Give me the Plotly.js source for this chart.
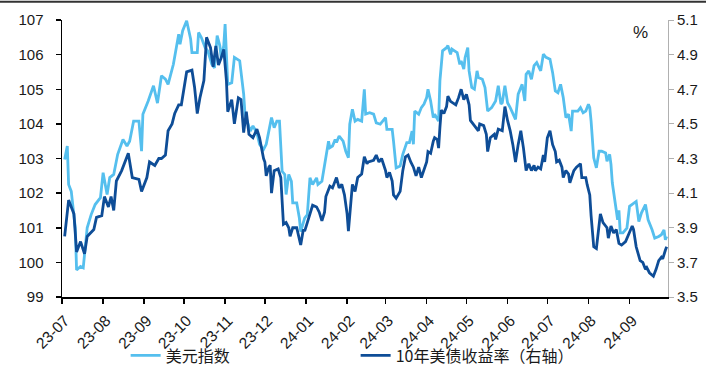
<!DOCTYPE html>
<html>
<head>
<meta charset="utf-8">
<script src="https://cdn.plot.ly/plotly-3.0.1.min.js"></script>
<style>
  html, body { margin: 0; padding: 0; background: #ffffff; }
  #chart { width: 718px; height: 376px; }
</style>
</head>
<body>
<div id="chart"></div>
<script>
// ---- Data ----
const seriesNames = ['美元指数', '10年美债收益率（右轴）'];

const dxyDates = [
 '2023-07-03','2023-07-05','2023-07-06','2023-07-08','2023-07-11','2023-07-12','2023-07-15','2023-07-17','2023-07-20','2023-07-23',
 '2023-07-26','2023-07-30','2023-08-01','2023-08-04','2023-08-06','2023-08-09','2023-08-12','2023-08-16','2023-08-19','2023-08-21',
 '2023-08-24','2023-08-28','2023-08-30','2023-08-31','2023-09-04','2023-09-08','2023-09-11','2023-09-14','2023-09-17','2023-09-19',
 '2023-09-23','2023-09-27','2023-09-28','2023-09-30','2023-10-03','2023-10-06','2023-10-07','2023-10-11','2023-10-12','2023-10-14',
 '2023-10-17','2023-10-19','2023-10-22','2023-10-24','2023-10-26','2023-10-28','2023-10-29','2023-10-31','2023-11-01','2023-11-03',
 '2023-11-06','2023-11-08','2023-11-12','2023-11-15','2023-11-16','2023-11-20','2023-11-22','2023-11-25','2023-11-27','2023-11-30',
 '2023-12-02','2023-12-05','2023-12-06','2023-12-08','2023-12-10','2023-12-12','2023-12-14','2023-12-16','2023-12-17','2023-12-19',
 '2023-12-21','2023-12-22','2023-12-25','2023-12-27','2023-12-28','2023-12-31','2024-01-02','2024-01-04','2024-01-06','2024-01-09',
 '2024-01-10','2024-01-13','2024-01-15','2024-01-18','2024-01-19','2024-01-21','2024-01-23','2024-01-24','2024-01-26','2024-01-29',
 '2024-01-31','2024-02-02','2024-02-03','2024-02-05','2024-02-07','2024-02-09','2024-02-12','2024-02-14','2024-02-15','2024-02-18',
 '2024-02-21','2024-02-23','2024-02-26','2024-02-28','2024-03-01','2024-03-02','2024-03-06','2024-03-07','2024-03-09','2024-03-12',
 '2024-03-14','2024-03-17','2024-03-19','2024-03-21','2024-03-22','2024-03-23','2024-03-26','2024-03-28','2024-03-30','2024-04-01',
 '2024-04-02','2024-04-04','2024-04-06','2024-04-07','2024-04-10','2024-04-11','2024-04-13','2024-04-16','2024-04-17','2024-04-19',
 '2024-04-20','2024-04-22','2024-04-24','2024-04-26','2024-04-27','2024-04-29','2024-04-30','2024-05-02','2024-05-03','2024-05-05',
 '2024-05-07','2024-05-09','2024-05-10','2024-05-13','2024-05-15','2024-05-17','2024-05-20','2024-05-23','2024-05-25','2024-05-27',
 '2024-05-28','2024-05-30','2024-06-01','2024-06-03','2024-06-06','2024-06-07','2024-06-09','2024-06-12','2024-06-14','2024-06-15',
 '2024-06-17','2024-06-19','2024-06-21','2024-06-23','2024-06-26','2024-06-28','2024-06-30','2024-07-03','2024-07-05','2024-07-07',
 '2024-07-09','2024-07-11','2024-07-13','2024-07-15','2024-07-17','2024-07-19','2024-07-20','2024-07-24','2024-07-26','2024-07-28',
 '2024-07-30','2024-08-01','2024-08-02','2024-08-03','2024-08-05','2024-08-07','2024-08-09','2024-08-11','2024-08-14','2024-08-15',
 '2024-08-17','2024-08-18','2024-08-19','2024-08-21','2024-08-23','2024-08-24','2024-08-25','2024-08-27','2024-08-30','2024-09-01',
 '2024-09-04','2024-09-06','2024-09-08','2024-09-10','2024-09-13','2024-09-15','2024-09-18','2024-09-20','2024-09-23','2024-09-25',
 '2024-09-27','2024-09-28','2024-09-29'
];
const dxyValues = [
 102.97,103.36,102.25,102.05,101.0,99.78,99.88,99.84,101.0,101.38,
 101.67,101.87,102.59,101.96,102.45,102.54,103.12,103.55,103.36,103.5,
 104.08,104.08,103.21,104.28,104.66,105.1,104.6,105.39,105.29,105.14,
 105.72,106.59,106.3,106.69,106.98,106.45,106.06,106.06,106.64,106.5,
 106.2,106.1,105.72,105.62,106.55,106.26,105.92,106.26,106.88,105.14,
 105.19,105.92,105.82,104.86,104.28,103.79,103.94,103.74,103.41,103.26,
 103.41,104.0,104.18,103.89,104.08,104.08,102.63,102.54,101.96,102.54,
 102.34,101.72,101.72,101.28,100.89,101.28,101.38,102.44,102.25,102.44,
 102.25,102.34,102.78,103.5,103.31,103.36,103.55,103.46,103.65,103.5,
 103.21,103.02,103.99,104.42,104.08,104.13,104.08,105.0,104.28,104.32,
 104.28,104.03,103.99,104.08,104.18,103.84,103.84,103.5,102.73,102.78,
 103.12,103.46,103.46,103.79,103.41,104.37,104.28,104.47,104.57,104.76,
 105.0,104.66,104.18,104.28,104.08,105.24,106.11,106.2,106.26,106.01,
 106.16,106.11,106.06,105.72,105.82,105.58,105.92,106.2,105.53,105.05,
 105.0,105.53,105.34,105.29,105.05,104.37,104.47,104.66,105.1,104.57,
 104.61,105.1,104.61,104.47,104.18,104.13,104.86,105.14,104.66,105.43,
 105.53,105.29,105.68,105.77,105.53,106.01,105.92,105.87,105.48,104.95,
 104.9,105.14,104.76,104.18,104.28,103.79,104.37,104.37,104.47,104.32,
 104.37,104.57,104.47,104.08,103.02,102.73,103.21,103.21,103.16,102.92,
 103.12,102.83,102.3,101.81,101.23,101.5,100.85,100.85,100.99,101.62,
 101.72,101.76,101.18,101.43,101.67,101.23,100.94,100.7,100.75,100.8,
 100.94,100.65,100.75
];

const ustDates = [
 '2023-07-03','2023-07-06','2023-07-10','2023-07-12','2023-07-15','2023-07-18','2023-07-20','2023-07-25','2023-07-27','2023-07-31',
 '2023-08-02','2023-08-05','2023-08-07','2023-08-09','2023-08-11','2023-08-15','2023-08-20','2023-08-23','2023-08-28','2023-08-30',
 '2023-09-03','2023-09-05','2023-09-09','2023-09-12','2023-09-14','2023-09-17','2023-09-19','2023-09-22','2023-09-24','2023-09-27',
 '2023-09-29','2023-10-02','2023-10-03','2023-10-07','2023-10-09','2023-10-11','2023-10-13','2023-10-16','2023-10-18','2023-10-21',
 '2023-10-23','2023-10-25','2023-10-27','2023-10-29','2023-10-31','2023-11-02','2023-11-03','2023-11-06','2023-11-08','2023-11-11',
 '2023-11-13','2023-11-15','2023-11-17','2023-11-19','2023-11-22','2023-11-25','2023-11-27','2023-11-30','2023-12-01','2023-12-02',
 '2023-12-04','2023-12-05','2023-12-06','2023-12-08','2023-12-11','2023-12-13','2023-12-15','2023-12-17','2023-12-19','2023-12-20',
 '2023-12-22','2023-12-25','2023-12-26','2023-12-28','2023-12-30','2023-12-31','2024-01-02','2024-01-04','2024-01-06','2024-01-09',
 '2024-01-11','2024-01-13','2024-01-15','2024-01-16','2024-01-19','2024-01-21','2024-01-24','2024-01-26','2024-01-28','2024-01-30',
 '2024-02-01','2024-02-02','2024-02-04','2024-02-05','2024-02-07','2024-02-09','2024-02-12','2024-02-14','2024-02-16','2024-02-17',
 '2024-02-21','2024-02-23','2024-02-25','2024-02-27','2024-03-01','2024-03-02','2024-03-04','2024-03-06','2024-03-07','2024-03-09',
 '2024-03-12','2024-03-14','2024-03-16','2024-03-18','2024-03-20','2024-03-22','2024-03-24','2024-03-26','2024-03-28','2024-03-30',
 '2024-04-01','2024-04-02','2024-04-04','2024-04-06','2024-04-07','2024-04-09','2024-04-10','2024-04-11','2024-04-12','2024-04-14',
 '2024-04-16','2024-04-17','2024-04-19','2024-04-21','2024-04-23','2024-04-25','2024-04-27','2024-04-29','2024-05-01','2024-05-03',
 '2024-05-04','2024-05-07','2024-05-10','2024-05-11','2024-05-14','2024-05-16','2024-05-17','2024-05-19','2024-05-22','2024-05-23',
 '2024-05-25','2024-05-28','2024-05-30','2024-06-01','2024-06-03','2024-06-05','2024-06-07','2024-06-09','2024-06-11','2024-06-13',
 '2024-06-15','2024-06-17','2024-06-19','2024-06-21','2024-06-22','2024-06-24','2024-06-26','2024-06-28','2024-06-29','2024-07-01',
 '2024-07-03','2024-07-05','2024-07-07','2024-07-08','2024-07-10','2024-07-12','2024-07-13','2024-07-15','2024-07-17','2024-07-18',
 '2024-07-21','2024-07-23','2024-07-26','2024-07-27','2024-07-30','2024-07-31','2024-08-02','2024-08-03','2024-08-05','2024-08-07',
 '2024-08-10','2024-08-12','2024-08-15','2024-08-16','2024-08-18','2024-08-20','2024-08-22','2024-08-24','2024-08-26','2024-08-29',
 '2024-08-31','2024-09-03','2024-09-04','2024-09-06','2024-09-09','2024-09-11','2024-09-13','2024-09-14','2024-09-16','2024-09-19',
 '2024-09-21','2024-09-23','2024-09-25','2024-09-26','2024-09-28','2024-09-29'
];
const ustValues = [
 3.85,4.06,3.98,3.76,3.82,3.75,3.85,3.89,3.96,3.97,
 4.08,4.02,4.08,4.00,4.17,4.23,4.33,4.19,4.18,4.11,
 4.19,4.28,4.26,4.30,4.30,4.32,4.46,4.50,4.56,4.61,
 4.61,4.75,4.80,4.81,4.71,4.56,4.65,4.75,5.00,4.94,
 4.83,4.95,4.84,4.88,4.93,4.75,4.57,4.64,4.50,4.65,
 4.64,4.45,4.57,4.44,4.42,4.47,4.42,4.30,4.28,4.20,
 4.25,4.26,4.10,4.23,4.24,4.19,3.92,3.93,3.90,3.85,
 3.90,3.90,3.86,3.80,3.89,3.88,3.93,3.98,4.03,4.02,
 3.99,3.94,3.99,4.08,4.14,4.13,4.19,4.13,4.15,4.09,
 3.98,3.88,4.05,4.15,4.11,4.19,4.21,4.31,4.27,4.28,
 4.29,4.32,4.28,4.30,4.23,4.19,4.22,4.17,4.09,4.07,
 4.11,4.23,4.31,4.32,4.28,4.25,4.20,4.25,4.19,4.23,
 4.28,4.34,4.33,4.40,4.42,4.41,4.36,4.48,4.58,4.56,
 4.60,4.66,4.63,4.62,4.61,4.65,4.70,4.64,4.67,4.61,
 4.52,4.49,4.46,4.50,4.49,4.44,4.34,4.42,4.44,4.41,
 4.47,4.46,4.60,4.52,4.46,4.38,4.28,4.38,4.46,4.36,
 4.23,4.27,4.23,4.26,4.23,4.25,4.24,4.32,4.28,4.42,
 4.46,4.38,4.34,4.28,4.29,4.25,4.19,4.23,4.21,4.16,
 4.23,4.25,4.27,4.19,4.19,4.15,4.09,3.97,3.79,3.78,
 3.98,3.93,3.90,3.84,3.91,3.87,3.89,3.81,3.80,3.82,
 3.86,3.91,3.89,3.79,3.71,3.70,3.66,3.67,3.64,3.62,
 3.66,3.71,3.73,3.72,3.77,3.79
];

const xRange = ['2023-07-01', '2024-09-30'];
const leftRange = [99, 107];
const rightRange = [3.5, 5.1];

// ---- Chart ----
const tickFont = { family: 'Liberation Sans, Arial, sans-serif', size: 15, color: '#1a1a1a' };

const traces = [
  {
    x: dxyDates, y: dxyValues, name: seriesNames[0], type: 'scatter', mode: 'lines',
    line: { color: '#55BFEE', width: 2.8 }, yaxis: 'y'
  },
  {
    x: ustDates, y: ustValues, name: seriesNames[1], type: 'scatter', mode: 'lines',
    line: { color: '#0E4D97', width: 2.8 }, yaxis: 'y2'
  }
];

const layout = {
  width: 718, height: 376,
  margin: { l: 62, r: 50, t: 20, b: 79, autoexpand: false },
  paper_bgcolor: '#ffffff', plot_bgcolor: '#ffffff',
  showlegend: true,
  legend: {
    orientation: 'h', x: 0.105, y: -0.15, xanchor: 'left', yanchor: 'top',
    entrywidth: 185, entrywidthmode: 'pixels', tracegroupgap: 0,
    font: { family: 'Noto Sans CJK SC, sans-serif', size: 16, color: '#1a1a1a' },
    bgcolor: 'rgba(0,0,0,0)'
  },
  xaxis: {
    type: 'date', range: xRange, automargin: false,
    dtick: 'M1', tick0: '2023-07-01', tickformat: '%y-%m', tickangle: -45,
    ticklabelshift: 3, ticklabelstandoff: 2,
    showgrid: false, zeroline: false,
    showline: true, linecolor: '#000000', linewidth: 1.5,
    ticks: 'outside', ticklen: 5, tickcolor: '#000000', tickwidth: 1.5,
    tickfont: { family: 'Liberation Sans, Arial, sans-serif', size: 15.5, color: '#1a1a1a' }
  },
  yaxis: {
    range: leftRange, dtick: 1, showgrid: false, zeroline: false, automargin: false,
    ticklabelstandoff: 9,
    showline: true, linecolor: '#000000', linewidth: 1.5,
    ticks: 'outside', ticklen: 5, tickcolor: '#000000', tickwidth: 1.5,
    tickfont: tickFont
  },
  yaxis2: {
    range: rightRange, tick0: 3.5, dtick: 0.2, tickformat: '.1f', overlaying: 'y', side: 'right',
    showgrid: false, zeroline: false, automargin: false,
    showline: true, linecolor: '#b0b0b0', linewidth: 1,
    ticks: 'outside', ticklen: 5, tickcolor: '#b0b0b0', tickwidth: 1,
    tickfont: tickFont
  },
  annotations: [
    { text: '%', xref: 'paper', yref: 'paper', x: 0.955, y: 0.955, xanchor: 'center', yanchor: 'middle',
      showarrow: false,
      font: { family: 'Liberation Sans, Arial, sans-serif', size: 17, color: '#1a1a1a' } }
  ],
  shapes: [
    { type: 'line', xref: 'paper', yref: 'paper', x0: -0.1023, x1: 1.0627, y0: 1.066, y1: 1.066,
      line: { color: '#333333', width: 2 } }
  ]
};

Plotly.newPlot('chart', traces, layout, { displayModeBar: false, staticPlot: true });
</script>
</body>
</html>
